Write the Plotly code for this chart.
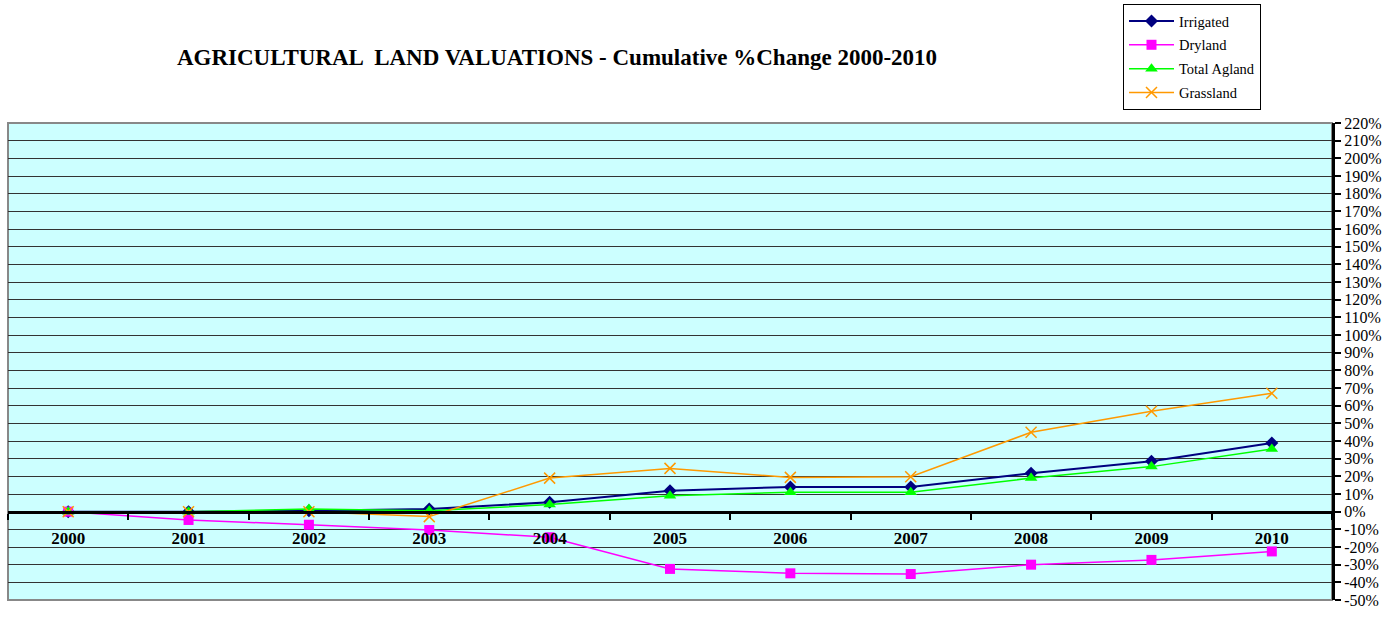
import plotly.graph_objects as go

years = ["2000", "2001", "2002", "2003", "2004", "2005", "2006", "2007", "2008", "2009", "2010"]
irrigated = [0.0, 0.0, 0.5, 1.5, 5.3, 11.9, 14.0, 14.0, 21.7, 28.5, 38.9]
dryland = [0.0, -4.7, -7.4, -10.4, -14.5, -32.4, -34.9, -35.3, -30.0, -27.3, -22.5]
total_agland = [0.0, 0.0, 1.5, 0.5, 4.0, 9.0, 11.0, 11.0, 19.0, 25.5, 35.5]
grassland = [0.0, 0.0, 0.0, -2.8, 19.0, 24.5, 19.4, 19.8, 44.9, 56.8, 67.0]

y_ticks = list(range(-50, 221, 10))
y_labels = [f"{v}%" for v in y_ticks]
y_min, y_max = -50, 220

serif = "Liberation Serif"

fig = go.Figure()
fig.add_trace(go.Scatter(x=years, y=irrigated, name="Irrigated", mode="lines+markers",
                         line=dict(color="#000080", width=2),
                         marker=dict(symbol="diamond", size=10, color="#000080"),
                         legendgroup="a"))
fig.add_trace(go.Scatter(x=years, y=dryland, name="Dryland", mode="lines+markers",
                         line=dict(color="#FF00FF", width=1.5),
                         marker=dict(symbol="square", size=10, color="#FF00FF"),
                         legendgroup="b"))
fig.add_trace(go.Scatter(x=years, y=total_agland, name="Total Agland", mode="lines+markers",
                         line=dict(color="#00FF00", width=1.5),
                         marker=dict(symbol="triangle-up", size=11, color="#00FF00"),
                         legendgroup="c"))
fig.add_trace(go.Scatter(x=years, y=grassland, name="Grassland", mode="lines+markers",
                         line=dict(color="#FF9900", width=1.5),
                         marker=dict(symbol="x-thin-open", size=11, color="#FF9900",
                                     line=dict(color="#FF9900", width=1.5)),
                         legendgroup="d"))

zero_pos = (0 - y_min) / (y_max - y_min)

fig.update_layout(
    width=1393, height=620,
    margin=dict(l=8, r=61, t=123, b=20, autoexpand=False),
    paper_bgcolor="white",
    plot_bgcolor="#CCFFFF",
    title=dict(text="AGRICULTURAL  LAND VALUATIONS - Cumulative %Change 2000-2010",
               font=dict(family=serif, size=23, color="black", weight="bold"),
               x=557 / 1393, xanchor="center", xref="container",
               y=1 - 57 / 620, yanchor="middle", yref="container"),
    legend=dict(xref="container", yref="container", x=1123 / 1393, y=1 - 4 / 620,
                xanchor="left", yanchor="top",
                bgcolor="white", bordercolor="black", borderwidth=1,
                font=dict(family=serif, size=14.5, color="black"),
                itemwidth=45,
                tracegroupgap=2),
    xaxis=dict(type="category", categoryorder="array", categoryarray=years,
               range=[-0.5, len(years) - 0.5],
               anchor="free", position=zero_pos,
               showgrid=False, zeroline=False,
               showline=True, linecolor="black", linewidth=3,
               ticks="outside", tickson="boundaries", ticklen=6, tickwidth=2, tickcolor="black",
               ticklabelstandoff=10,
               tickfont=dict(family=serif, size=17, color="black", weight="bold")),
    yaxis=dict(side="right", range=[y_min, y_max],
               tickvals=y_ticks, ticktext=y_labels,
               showgrid=True, gridcolor="#333333", gridwidth=1,
               zeroline=False,
               showline=True, linecolor="black", linewidth=3,
               ticks="outside", ticklen=6, tickwidth=2, tickcolor="black",
               tickfont=dict(family=serif, size=16, color="black")),
    shapes=[dict(type="rect", xref="paper", yref="paper", x0=0, x1=1, y0=0, y1=1,
                 line=dict(color="#888888", width=2), layer="below")],
)

fig.write_html("out.html", config={"displayModeBar": False},
               post_script="document.body.style.margin='0';")
